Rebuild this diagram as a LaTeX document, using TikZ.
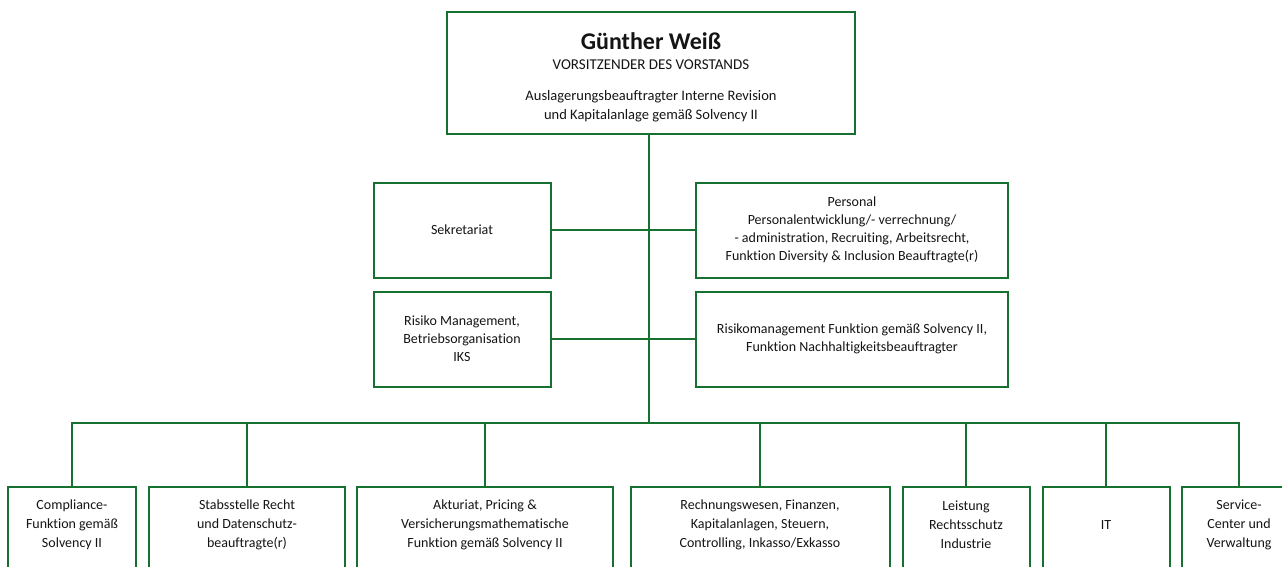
\documentclass[tikz,border=0pt]{standalone}
\usepackage{fontspec}
\setmainfont{Carlito}[Ligatures={NoCommon}]
\definecolor{grn}{RGB}{22,112,48}
\definecolor{txt}{RGB}{20,20,20}
\begin{document}
\begin{tikzpicture}[x=1pt,y=-1pt,
  link/.style={draw=grn,line width=2pt},
  box/.style={draw=grn,line width=2pt,inner sep=0pt,align=center,text=txt,font=\fontsize{14}{18}\selectfont},
  obox/.style={box,draw=none,minimum height=74,font=\fontsize{14}{19}\selectfont}]
\clip (0,0) rectangle (1282,566);
\useasboundingbox (0,0) rectangle (1282,566);
% top
\node[box,minimum width=408,minimum height=122,font=\fontsize{14.5}{19.5}\selectfont] (top) at (651,73)
  {\rule{0pt}{25pt}{\fontsize{24}{26}\selectfont\bfseries Günther Weiß}\\[0.5pt]
   {\fontsize{15}{18}\selectfont VORSITZENDER DES VORSTANDS}\\[11.5pt]
   Auslagerungsbeauftragter Interne Revision\\
   und Kapitalanlage gemäß Solvency II};
% middle
\node[box,minimum width=177,minimum height=95] (sek) at (462,230) {Sekretariat};
\node[box,minimum width=312,minimum height=95] (pers) at (852,230)
  {Personal\\Personalentwicklung/- verrechnung/\\- administration, Recruiting, Arbeitsrecht,\\Funktion Diversity \& Inclusion Beauftragte(r)};
\node[box,minimum width=177,minimum height=95] (risk) at (462,339)
  {Risiko Management,\\Betriebsorganisation\\IKS};
\node[box,minimum width=312,minimum height=95] (rm) at (852,339)
  {Risikomanagement Funktion gemäß Solvency II,\\Funktion Nachhaltigkeitsbeauftragter};
% bottom
\node[obox,minimum width=126] (b1) at (72,525) {Compliance-\\Funktion gemäß\\Solvency II};
\node[obox,minimum width=194] (b2) at (247,525) {Stabsstelle Recht\\und Datenschutz-\\beauftragte(r)};
\node[obox,minimum width=254] (b3) at (485,525) {Akturiat, Pricing \&\\Versicherungsmathematische\\Funktion gemäß Solvency II};
\node[obox,minimum width=257] (b4) at (760,525) {Rechnungswesen, Finanzen,\\Kapitalanlagen, Steuern,\\Controlling, Inkasso/Exkasso};
\node[obox,minimum width=125] (b5) at (966,525) {Leistung\\Rechtsschutz\\Industrie};
\node[obox,minimum width=125] (b6) at (1106,525) {IT};
\node[obox,minimum width=112] (b7) at (1239,525) {Service-\\Center und\\Verwaltung};
\foreach \b in {b1,b2,b3,b4,b5,b6,b7}{
  \draw[link] ([yshift=-20pt]\b.south west) |- (\b.north east) -- ([yshift=-20pt]\b.south east);
}
% connectors
\coordinate (bus) at (649,423);
\draw[link] (top.south -| bus) -- (bus);
\draw[link] (sek.east) -- (pers.west);
\draw[link] (risk.east) -- (rm.west);
\foreach \b in {b1,b2,b3,b4,b5,b6,b7}{
  \draw[link] (bus) -| (\b.north);
}
\end{tikzpicture}
\end{document}
